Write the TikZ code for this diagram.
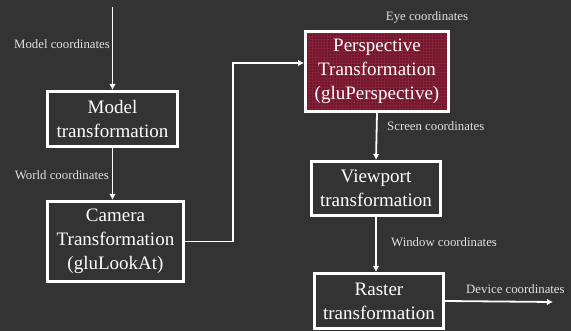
\documentclass[tikz,border=0pt]{standalone}
\usepackage{fontspec}
\setmainfont{Liberation Serif}
\usetikzlibrary{arrows.meta, positioning, calc}

\definecolor{bgdark}{RGB}{51,51,51}
\definecolor{perspred}{RGB}{114,20,44}
\definecolor{gridred}{RGB}{132,34,58}
\definecolor{lbltext}{RGB}{225,225,225}

\tikzset{
  stagebox/.style={draw=white, line width=3pt, text=white, align=center,
    font=\fontsize{19}{24}\selectfont, inner sep=0pt},
  coordlabel/.style={text=lbltext, font=\fontsize{12.8}{14}\selectfont, inner sep=0pt},
  flow/.style={draw=white, line width=1.8pt, -{Latex[length=6pt,width=6.5pt]}}
}

\begin{document}
\begin{tikzpicture}[x=1pt, y=-1pt]
      \fill[bgdark] (0,0) rectangle (571,331);
      \useasboundingbox (0,0) rectangle (571,331);

      % boxes
      \node[stagebox, minimum width=130pt, minimum height=55pt] (model) at (112.5,119) {Model\\transformation};
      \node[stagebox, minimum width=136pt, minimum height=80pt] (camera) at (115.5,241.5) {Camera\\Transformation\\(gluLookAt)};
      \node[stagebox, fill=perspred, minimum width=143pt, minimum height=80pt] (persp) at (377,71.5) {};
      \begin{scope}
        \clip (persp.south west) rectangle (persp.north east);
        \draw[gridred, line width=0.3pt, step=3pt] (persp.south west) grid (persp.north east);
      \end{scope}
      \node[stagebox, minimum width=143pt, minimum height=80pt] at (persp) {Perspective\\Transformation\\(gluPerspective)};
      \node[stagebox, minimum width=129pt, minimum height=54pt] (view) at (376,188.5) {Viewport\\transformation};
      \node[stagebox, minimum width=129pt, minimum height=55pt] (raster) at (379,301) {Raster\\transformation};

      % free ends
      \coordinate (in) at (112.5,7);
      \coordinate (out) at (553,302);

      % connectors
      \draw[flow] (in) -- (model.north);
      \draw[flow] (model.south) -- (camera.north -| model.south);
      \draw[flow] (camera.east) -- (233,241.5) |- ([yshift=8.5pt]persp.west);
      \draw[flow] (persp.south) -- (view.north);
      \draw[flow] (view.south) -- (view.south |- raster.north);
      \draw[flow] (raster.east) -- (out);

      % labels
      \node[coordlabel, anchor=east] (lmodel) at (110,44) {Model coordinates};
      \node[coordlabel, anchor=east] (lworld) at (109,175) {World coordinates};
      \node[coordlabel] (leye) at (427,17) {Eye coordinates};
      \node[coordlabel, anchor=west] (lscreen) at (387,126) {Screen coordinates};
      \node[coordlabel, anchor=west] (lwindow) at (391,242) {Window coordinates};
      \node[coordlabel, anchor=west] (ldevice) at (466,289) {Device coordinates};
    \end{tikzpicture}
\end{document}
